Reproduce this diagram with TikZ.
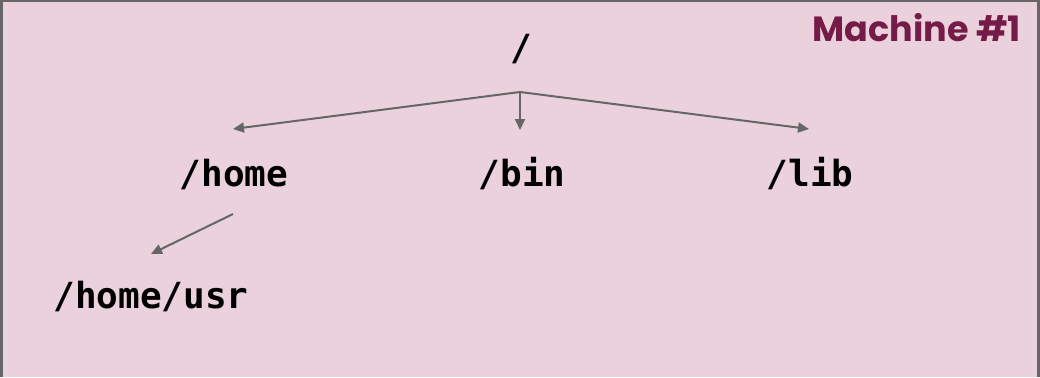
\documentclass[tikz,border=0pt]{standalone}
\usepackage{fontspec}
\usetikzlibrary{arrows.meta}
\newfontfamily\dirfont{DejaVu Sans Mono}
\newfontfamily\titlefont{Poppins}
\definecolor{bgpink}{HTML}{EAD1DC}
\definecolor{edgegray}{HTML}{666666}
\definecolor{machinecol}{HTML}{741B47}
\tikzset{
  dir/.style={font=\dirfont\bfseries\fontsize{36}{40}\selectfont, text=black, inner sep=0pt, anchor=base},
  link/.style={draw=edgegray, line width=2pt, -{Triangle[length=11pt,width=10pt]}},
}
\begin{document}
\begin{tikzpicture}[x=1pt,y=-1pt]
\useasboundingbox (0,0) rectangle (1040,377);
\fill[bgpink] (0,0) rectangle (1040,377);
\draw[edgegray, line width=2.5pt] (1.5,377) -- (1.5,1) -- (1038.5,1) -- (1038.5,377);
\node[font=\titlefont\bfseries\fontsize{35}{40}\selectfont, text=machinecol, anchor=base east, inner sep=0pt] (title) at (1021,42) {Machine \#1};
\node[dir] (root) at (521,61) {/};
\node[dir] (home) at (234,186) {/home};
\node[dir] (bin) at (522,186) {/bin};
\node[dir] (lib) at (810,186) {/lib};
\node[dir] (usr) at (151,308) {/home/usr};
\coordinate (fork) at (520,92);
\coordinate (homein) at (233,129);
\coordinate (binin) at (520,130);
\coordinate (libin) at (809,129);
\coordinate (homeout) at (233,214);
\coordinate (usrin) at (151,254);
\draw[link] (fork) -- (homein);
\draw[link] (fork) -- (binin);
\draw[link] (fork) -- (libin);
\draw[link] (homeout) -- (usrin);
\end{tikzpicture}
\end{document}
